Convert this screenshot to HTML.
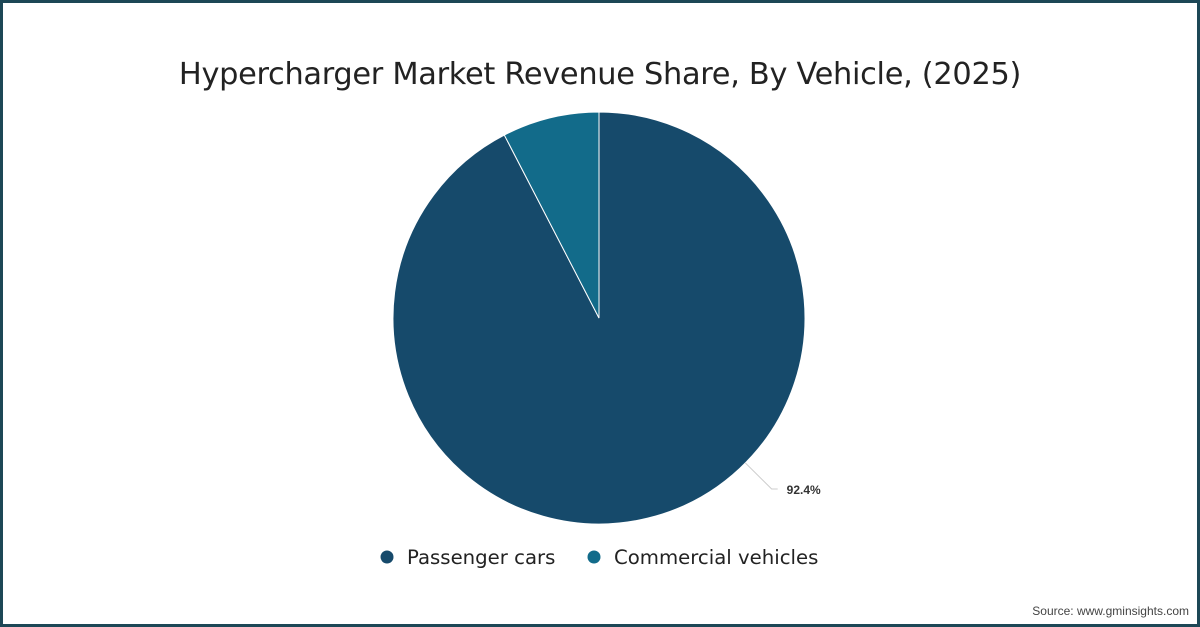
<!DOCTYPE html>
<html><head><meta charset="utf-8"><style>
html,body{margin:0;padding:0;background:#fff}
#wrap{position:relative;width:1200px;height:627px;box-sizing:border-box;border:3px solid #1d4756;background:#fff;font-family:"Liberation Sans",sans-serif}
#title{position:absolute;left:0;width:1194px;top:54px;text-align:center;font-size:30.4px;color:#222;font-family:"DejaVu Sans","Liberation Sans",sans-serif;letter-spacing:-0.3px}
#src{position:absolute;right:8px;top:601px;font-size:12px;color:#444}
svg{position:absolute;left:-3px;top:-3px}
</style></head><body>
<div id="wrap">
<div id="title">Hypercharger Market Revenue Share, By Vehicle, (2025)</div>
<svg id="chart" width="1200" height="627"></svg>
<div id="src">Source: www.gminsights.com</div>
</div>
<script>
const categories = ["Passenger cars","Commercial vehicles"];
const values = [92.4, 7.6];
const colors = ["#164a6b","#126b8a"];
const labels = ["92.4%", ""];
const NS="http://www.w3.org/2000/svg";
const svg=document.getElementById('chart');
const cx=599, cy=318, r=206;
const total=values.reduce((a,b)=>a+b,0);
function pt(a,rr){return [cx+rr*Math.sin(a), cy-rr*Math.cos(a)];}
let start=0;
values.forEach((v,i)=>{
  const sweep=v/total*2*Math.PI, end=start+sweep;
  const p0=pt(start,r), p1=pt(end,r);
  const path=document.createElementNS(NS,'path');
  path.setAttribute('d',`M${cx},${cy} L${p0[0]},${p0[1]} A${r},${r} 0 ${sweep>Math.PI?1:0} 1 ${p1[0]},${p1[1]} Z`);
  path.setAttribute('fill',colors[i]);
  path.setAttribute('stroke','#fff');
  path.setAttribute('stroke-width','1');
  
  
  svg.appendChild(path);
  if(labels[i]){
    const la=start+sweep*0.405;
    const a=pt(la,r), b=pt(la,r+37);
    const line=document.createElementNS(NS,'polyline');
    line.setAttribute('points',`${a[0]},${a[1]} ${b[0]},${b[1]} ${b[0]+6},${b[1]}`);
    line.setAttribute('fill','none');line.setAttribute('stroke','#ccc');line.setAttribute('stroke-width','1');
    
    
    svg.appendChild(line);
    const t=document.createElementNS(NS,'text');
    t.setAttribute('x',b[0]+15);t.setAttribute('y',b[1]+5);
    t.setAttribute('font-size','12');t.setAttribute('font-weight','bold');t.setAttribute('fill','#333');
    t.setAttribute('font-family','Liberation Sans, sans-serif');
    t.textContent=labels[i];
    
    
    svg.appendChild(t);
  }
  start=end;
});
const lx=[387,594];
categories.forEach((c,i)=>{
  const g=document.createElementNS(NS,'g');
  
  
  const ci=document.createElementNS(NS,'circle');
  ci.setAttribute('cx',lx[i]);ci.setAttribute('cy',557);ci.setAttribute('r',6.5);ci.setAttribute('fill',colors[i]);
  g.appendChild(ci);
  const t=document.createElementNS(NS,'text');
  t.setAttribute('x',lx[i]+20);t.setAttribute('y',564);t.setAttribute('font-size','19.7');t.setAttribute('fill','#222');
  t.setAttribute('font-family','DejaVu Sans, Liberation Sans, sans-serif');
  t.textContent=c;
  g.appendChild(t);
  svg.appendChild(g);
});
</script>
</body></html>
